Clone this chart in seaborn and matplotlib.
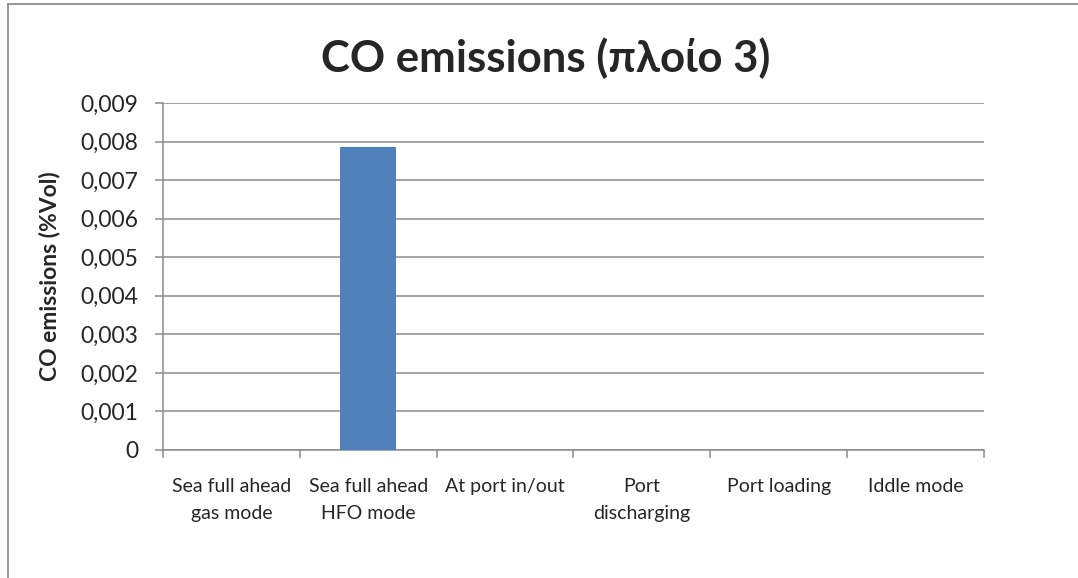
import matplotlib
matplotlib.use("Agg")
import matplotlib.pyplot as plt
import matplotlib.ticker as mticker
from matplotlib.lines import Line2D
import seaborn as sns
import pandas as pd

categories = ["Sea full ahead\ngas mode", "Sea full ahead\nHFO mode", "At port in/out",
              "Port\ndischarging", "Port loading", "Iddle mode"]
co_values = [0.0, 0.00786, 0.0, 0.0, 0.0, 0.0]
y_ticks = [0.000, 0.001, 0.002, 0.003, 0.004, 0.005, 0.006, 0.007, 0.008, 0.009]

sns.set_theme(style="white")
plt.rcParams["font.family"] = ["Lato", "DejaVu Sans"]

df = pd.DataFrame({"mode": categories, "co": co_values})

W, H = 1078, 578
fig = plt.figure(figsize=(W / 100, H / 100), dpi=100)
ax = fig.add_axes([163 / W, 1 - 450 / H, (984 - 163) / W, (450 - 103) / H])

sns.barplot(data=df, x="mode", y="co", color="#4F81BD", saturation=1,
            width=0.41, linewidth=0, ax=ax, zorder=3)

ax.set_ylim(0, 0.009)
ax.set_xlim(-0.5, len(categories) - 0.5)
ax.yaxis.set_major_locator(mticker.FixedLocator(y_ticks))
ax.yaxis.set_major_formatter(mticker.FuncFormatter(
    lambda v, _: "0" if abs(v) < 1e-12 else f"{v:.3f}".replace(".", ",")))
ax.grid(axis="y", color="#8c8c8c", linewidth=1.1, zorder=0)
ax.set_axisbelow(True)

for side in ["top", "right"]:
    ax.spines[side].set_visible(False)
for side in ["left", "bottom"]:
    ax.spines[side].set_color("#8c8c8c")
    ax.spines[side].set_linewidth(1.1)

ax.tick_params(axis="y", which="major", direction="out", length=6, width=1.1,
               color="#8c8c8c", labelsize=16.5, pad=12, left=True)
ax.tick_params(axis="x", which="major", length=0, labelsize=14, pad=20)
ax.xaxis.set_minor_locator(mticker.FixedLocator([i - 0.5 for i in range(len(categories) + 1)]))
ax.tick_params(axis="x", which="minor", direction="out", length=6, width=1.1,
               color="#8c8c8c", bottom=True)
for lbl in ax.get_xticklabels():
    lbl.set_linespacing(1.7)

ax.set_xlabel("")
ax.set_ylabel("CO emissions (%Vol)", fontsize=16.5, fontweight="bold", labelpad=14)
fig.text(546 / W, 1 - 58 / H, "CO emissions (πλοίο 3)",
         ha="center", va="center", fontsize=31.5, fontweight="bold")

# chart frame: top and left edges
fig.add_artist(Line2D([8 / W, 1.0], [1 - 4 / H, 1 - 4 / H], transform=fig.transFigure,
                      color="#8c8c8c", linewidth=1.3))
fig.add_artist(Line2D([8 / W, 8 / W], [0.0, 1 - 4 / H], transform=fig.transFigure,
                      color="#8c8c8c", linewidth=1.3))

fig.savefig("out.png", dpi=100)
